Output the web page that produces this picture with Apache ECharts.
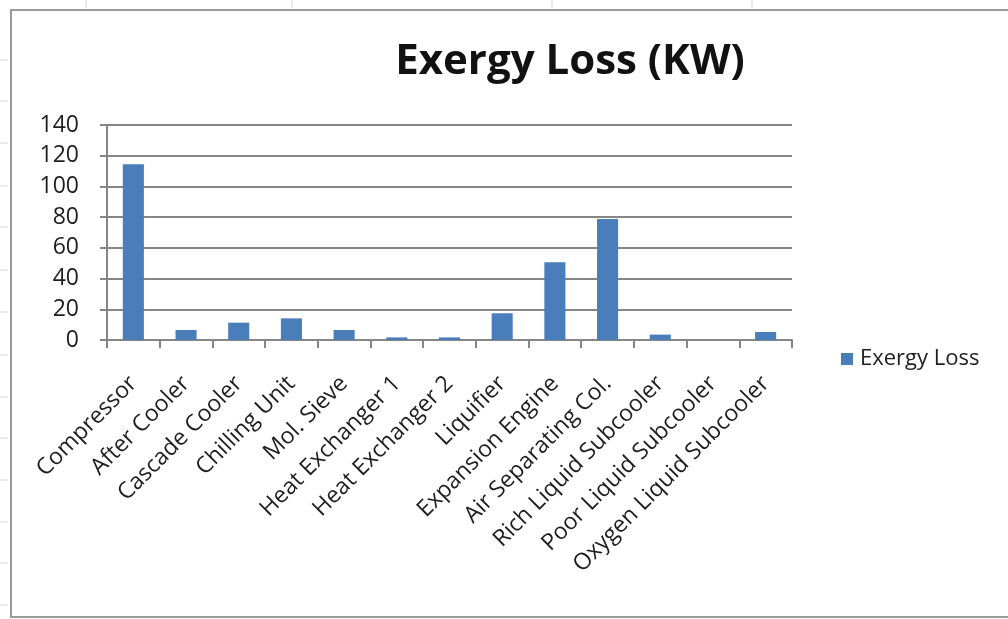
<!DOCTYPE html>
<html>
<head>
<meta charset="utf-8">
<script src="https://cdn.jsdelivr.net/npm/echarts@6/dist/echarts.min.js"></script>
<style>
  html, body { margin: 0; padding: 0; background: #ffffff; }
  #chart { width: 1008px; height: 619px; }
</style>
</head>
<body>
<div id="chart"></div>
<script>
// Exergy loss per plant component (kW)
const categories = [
  'Compressor', 'After Cooler', 'Cascade Cooler', 'Chilling Unit', 'Mol. Sieve',
  'Heat Exchanger 1', 'Heat Exchanger 2', 'Liquifier', 'Expansion Engine',
  'Air Separating Col.', 'Rich Liquid Subcooler', 'Poor Liquid Subcooler',
  'Oxygen Liquid Subcooler'
];
const exergyLoss = [114.5, 6.5, 11.3, 14.1, 6.5, 1.7, 1.7, 17.4, 50.6, 78.8, 3.5, 0, 5.2];
const seriesName = 'Exergy Loss';
const titleText = 'Exergy Loss (KW)';

const FONT = 'Open Sans';
const AXIS_GREY = '#868686';
const TEXT = '#1e1e1e';

const chart = echarts.init(document.getElementById('chart'), null, { renderer: 'canvas' });

// faint worksheet row/column marks outside the chart frame
const sheetMarks = [];
[60, 101, 143, 186, 227, 270, 312, 355, 397, 438, 480, 522, 563, 605].forEach(y => {
  sheetMarks.push({ type: 'line', shape: { x1: 0, y1: y, x2: 8, y2: y },
    style: { stroke: '#d6d6d6', lineWidth: 1 }, silent: true });
});
[86, 292, 552, 752].forEach(x => {
  sheetMarks.push({ type: 'line', shape: { x1: x, y1: 0, x2: x, y2: 8 },
    style: { stroke: '#d6d6d6', lineWidth: 1 }, silent: true });
});

chart.setOption({
  backgroundColor: '#ffffff',
  animation: false,
  textStyle: { fontFamily: FONT },
  title: {
    text: titleText,
    left: 565,
    textAlign: 'center',
    top: 36,
    textStyle: { fontFamily: FONT, fontSize: 42, fontWeight: 'bold', color: '#111' }
  },
  legend: {
    data: [seriesName],
    left: 836,
    top: 343,
    itemWidth: 12,
    itemHeight: 12,
    icon: 'rect',
    textStyle: { fontFamily: FONT, fontSize: 22, color: TEXT, padding: [0, 0, 0, 2] }
  },
  grid: { left: 107, right: 216, top: 125, bottom: 279, containLabel: false },
  xAxis: {
    type: 'category',
    data: categories,
    boundaryGap: true,
    axisLine: { show: true, lineStyle: { color: AXIS_GREY, width: 2 } },
    axisTick: { show: true, length: 8, lineStyle: { color: AXIS_GREY, width: 2 } },
    axisLabel: {
      interval: 0,
      rotate: 45,
      margin: 40,
      fontFamily: FONT,
      fontSize: 23,
      color: TEXT
    },
    splitLine: { show: false }
  },
  yAxis: {
    type: 'value',
    min: 0,
    max: 140,
    interval: 20,
    axisLine: { show: true, lineStyle: { color: AXIS_GREY, width: 2 } },
    axisTick: { show: true, length: 7, lineStyle: { color: AXIS_GREY, width: 2 } },
    axisLabel: { margin: 28, fontFamily: FONT, fontSize: 23, color: TEXT },
    splitLine: { show: true, lineStyle: { color: AXIS_GREY, width: 2 } }
  },
  series: [{
    name: seriesName,
    type: 'bar',
    data: exergyLoss,
    barWidth: '40%',
    itemStyle: { color: '#4a7ebb' }
  }],
  graphic: [
    {
      type: 'rect',
      shape: { x: 11, y: 10, width: 1020, height: 607 },
      style: { fill: 'none', stroke: '#9a9a9a', lineWidth: 2 },
      silent: true,
      z: -1
    }
  ].concat(sheetMarks)
});
</script>
</body>
</html>
